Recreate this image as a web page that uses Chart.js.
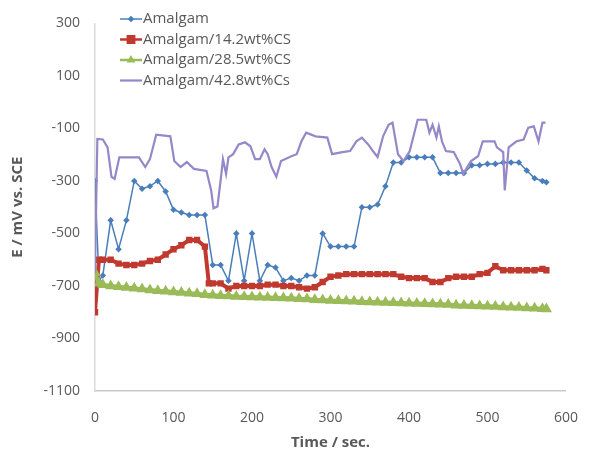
<!DOCTYPE html>
<html>
<head>
<meta charset="utf-8">
<script src="https://cdn.jsdelivr.net/npm/chart.js@4/dist/chart.umd.min.js"></script>
<style>
  html, body { margin: 0; padding: 0; background: #fff; }
  #wrap { width: 597px; height: 459px; position: relative; }
</style>
</head>
<body>
<div id="wrap"><canvas id="ocpChart"></canvas></div>
<script>
// 時間 (sec.) — Amalgam と 28.5wt%CS は同じ刻み
var timeCommon = [0, 5, 10, 20, 30, 40, 50, 60, 70, 80, 90, 100, 110, 120, 130, 140, 150, 160, 170, 180, 190, 200,
  210, 220, 230, 240, 250, 260, 270, 280, 290, 300, 310, 320, 330, 340, 350, 360, 370, 380, 390, 400, 410, 420,
  430, 440, 450, 460, 470, 480, 490, 500, 510, 520, 530, 540, 550, 560, 570, 575];

var amalgam = [-300, -680, -660, -450, -560, -450, -300, -330, -320, -300, -340, -410, -420, -430, -430, -430,
  -620, -620, -680, -500, -680, -500, -680, -620, -630, -680, -670, -680, -660, -660, -500, -550, -550, -550,
  -550, -400, -400, -390, -320, -230, -230, -210, -210, -210, -210, -270, -270, -270, -270, -240, -240, -235,
  -235, -230, -230, -230, -260, -290, -300, -305];

var cs285 = [-650, -690, -695, -700, -703, -706, -709, -712, -715, -718, -720, -723, -725, -728, -730, -733,
  -735, -737, -738, -740, -741, -742, -743, -744, -745, -746, -747, -749, -750, -752, -753, -755, -756, -757,
  -758, -760, -761, -762, -763, -764, -765, -766, -767, -768, -769, -770, -771, -773, -774, -775, -776, -777,
  -778, -780, -781, -782, -784, -785, -787, -788];

// 14.2wt%CS
var timeCs142 = [0, 5, 10, 20, 30, 40, 50, 60, 70, 80, 90, 100, 110, 120, 130, 140, 145, 150, 160, 170, 180, 190,
  200, 210, 220, 230, 240, 250, 260, 270, 280, 290, 300, 310, 320, 330, 340, 350, 360, 370, 380, 390, 400, 410,
  420, 430, 440, 450, 460, 470, 480, 490, 500, 510, 520, 530, 540, 550, 560, 570, 575];
var cs142 = [-800, -600, -600, -600, -615, -620, -620, -615, -605, -600, -580, -560, -545, -525, -525, -550,
  -690, -690, -690, -710, -700, -700, -700, -700, -695, -695, -700, -700, -705, -710, -705, -685, -665, -660,
  -655, -655, -655, -655, -655, -655, -655, -665, -670, -670, -670, -685, -685, -670, -665, -665, -665, -655,
  -650, -625, -640, -640, -640, -640, -640, -635, -640];

// 42.8wt%Cs
var timeCs428 = [0, 3, 10, 16, 21, 25, 31, 56, 64, 70, 78, 96, 101, 109, 117, 126, 142, 148, 151, 156, 161, 163,
  167, 170, 176, 183, 191, 198, 204, 210, 216, 220, 225, 231, 237, 250, 257, 263, 269, 281, 296, 302, 315, 325,
  333, 340, 348, 354, 360, 367, 374, 379, 386, 393, 401, 411, 422, 426, 430, 435, 438, 442, 447, 457, 465, 469,
  479, 488, 494, 509, 512, 520, 522, 527, 537, 546, 552, 559, 565, 570, 574];
var cs428 = [-650, -140, -142, -172, -284, -292, -210, -210, -247, -217, -124, -130, -224, -247, -228, -254,
  -262, -336, -404, -397, -273, -217, -273, -210, -198, -161, -153, -168, -217, -217, -179, -198, -247, -284,
  -224, -206, -198, -149, -116, -130, -135, -198, -190, -186, -149, -135, -161, -186, -209, -130, -86, -78,
  -198, -224, -186, -67, -67, -116, -86, -135, -92, -149, -186, -190, -235, -273, -224, -206, -149, -149,
  -172, -190, -336, -172, -149, -142, -97, -92, -149, -78, -78];

var seriesNames = ["Amalgam", "Amalgam/14.2wt%CS", "Amalgam/28.5wt%CS", "Amalgam/42.8wt%Cs"];
var xTicks = [0, 100, 200, 300, 400, 500, 600];
var yTicks = [-1100, -900, -700, -500, -300, -100, 100, 300];

function toPoints(t, v) {
  return t.map(function (x, i) { return { x: x, y: v[i] }; });
}

var textColor = "#595959";
Chart.defaults.font.family = "'Open Sans', 'DejaVu Sans', sans-serif";
Chart.defaults.color = textColor;

// Excel風の凡例 (プロットエリア左上に描く)
var insideLegend = {
  id: "insideLegend",
  afterDraw: function (chart) {
    var ctx = chart.ctx;
    ctx.save();
    ctx.font = "15px 'Open Sans', sans-serif";
    ctx.textBaseline = "middle";
    ctx.fillStyle = textColor;
    chart.data.datasets.forEach(function (ds, i) {
      var y = 19 + i * 20.5;
      ctx.strokeStyle = ds.borderColor;
      ctx.lineWidth = Math.min(ds.borderWidth, 2.5);
      ctx.beginPath();
      ctx.moveTo(120, y);
      ctx.lineTo(142, y);
      ctx.stroke();
      if (ds.pointRadius > 0) {
        Chart.helpers.drawPoint(ctx, {
          pointStyle: ds.pointStyle,
          radius: ds.pointRadius,
          borderWidth: 1
        }, 131, y);
        ctx.fillStyle = ds.borderColor;
        ctx.fill();
        ctx.fillStyle = textColor;
      }
      ctx.fillText(ds.label, 143, y);
    });
    ctx.restore();
  }
};

// 桁区切りなしで表示
function plainTick(value) {
  return String(value);
}

var config = {
  type: "scatter",
  data: {
    datasets: [
      {
        label: seriesNames[0],
        data: toPoints(timeCommon, amalgam),
        showLine: true,
        borderColor: "#4a7ebb",
        backgroundColor: "#4a7ebb",
        borderWidth: 1.5,
        pointStyle: "rectRot",
        pointRadius: 2.2,
        order: 3,
      },
      {
        label: seriesNames[1],
        data: toPoints(timeCs142, cs142),
        showLine: true,
        borderColor: "#c0392f",
        backgroundColor: "#c0392f",
        borderWidth: 4,
        pointStyle: "rect",
        pointRadius: 4.5,
        pointBorderWidth: 0,
        order: 2,
      },
      {
        label: seriesNames[2],
        data: toPoints(timeCommon, cs285),
        showLine: true,
        borderColor: "#9bbb59",
        backgroundColor: "#9bbb59",
        borderWidth: 4,
        pointStyle: "triangle",
        pointRadius: 2.5,
        order: 1,
      },
      {
        label: seriesNames[3],
        data: toPoints(timeCs428, cs428),
        showLine: true,
        borderColor: "#9587c8",
        backgroundColor: "#9587c8",
        borderWidth: 2.2,
        pointRadius: 0,
        order: 0,
      },
    ],
  },
  options: {
    responsive: true,
    maintainAspectRatio: false,
    animation: false,
    events: [],
    layout: {
      padding: { left: 0, right: 15, top: 17, bottom: 0 },
    },
    plugins: {
      legend: { display: false },
      tooltip: { enabled: false },
    },
    scales: {
      x: {
        type: "linear",
        min: 0,
        max: 600,
        afterBuildTicks: function (scale) {
          scale.ticks = xTicks.map(function (v) { return { value: v }; });
        },
        grid: { display: false, drawTicks: false },
        border: { display: true, color: "#c8c8c8", width: 1.5 },
        ticks: { padding: 19, font: { size: 14 }, color: textColor, callback: plainTick },
        title: {
          display: true,
          text: "Time / sec.",
          font: { size: 15, weight: "bold" },
          color: textColor,
          padding: { top: 0, bottom: 7 },
        },
        afterFit: function (scale) { scale.height = 68; },
      },
      y: {
        type: "linear",
        min: -1100,
        max: 300,
        afterBuildTicks: function (scale) {
          scale.ticks = yTicks.map(function (v) { return { value: v }; });
        },
        grid: { display: false, drawTicks: false },
        border: { display: true, color: "#d9d9d9", width: 1.5 },
        ticks: { padding: 15, font: { size: 14 }, color: textColor, callback: plainTick },
        title: {
          display: true,
          text: "E / mV vs. SCE",
          font: { size: 15, weight: "bold" },
          color: textColor,
          padding: { top: 9, bottom: 0 },
        },
        afterFit: function (scale) { scale.width = 95; },
      },
    },
  },
  plugins: [insideLegend],
};

var ocpChart = new Chart(document.getElementById("ocpChart"), config);
</script>
</body>
</html>
